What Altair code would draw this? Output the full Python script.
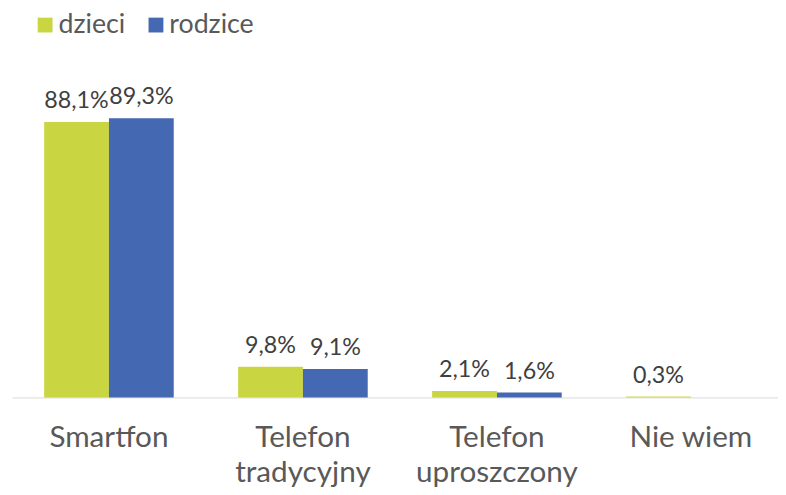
import altair as alt
import pandas as pd

categories = ["Smartfon", "Telefon tradycyjny", "Telefon uproszczony", "Nie wiem"]
series = ["dzieci", "rodzice"]
dzieci = [88.1, 9.8, 2.1, 0.3]
rodzice = [89.3, 9.1, 1.6, None]
colors = ["#C9D541", "#4568B2"]

rows = []
for c, d, r in zip(categories, dzieci, rodzice):
    if d is not None:
        rows.append({"kategoria": c, "seria": "dzieci", "v": d})
    if r is not None:
        rows.append({"kategoria": c, "seria": "rodzice", "v": r})
df = pd.DataFrame(rows)

FONT = "Lato"

base = alt.Chart(df).transform_calculate(
    lab="replace(format(datum.v, '.1f'), '.', ',') + '%'"
).encode(
    x=alt.X("kategoria:N", sort=categories,
            scale=alt.Scale(range=[4, 788], paddingInner=0.332, paddingOuter=0.166),
            axis=alt.Axis(title=None, labelAngle=0, ticks=False, domainColor="#D9D9D9",
                          domainWidth=1, labelFont=FONT, labelFontSize=30,
                          labelColor="#595959", labelPadding=26, labelLineHeight=35,
                          labelBaseline="top",
                          labelExpr="datum.value == 'Nie wiem' ? datum.value : split(datum.value, ' ')")),
    xOffset=alt.XOffset("seria:N", sort=series, scale=alt.Scale(paddingInner=0, paddingOuter=0)),
    y=alt.Y("v:Q", scale=alt.Scale(domain=[0, 123.8], nice=False), axis=None),
)

bars = base.mark_bar().encode(
    color=alt.Color("seria:N", sort=series,
                    scale=alt.Scale(domain=series, range=colors),
                    legend=alt.Legend(title=None, orient="none", legendX=24, legendY=1,
                                      direction="horizontal", symbolType="square",
                                      symbolSize=225, symbolStrokeWidth=0, symbolOpacity=1,
                                      labelFont=FONT, labelFontSize=27, labelColor="#595959",
                                      labelOffset=0, columnPadding=17, padding=0))
)

text = base.mark_text(baseline="bottom", dy=-9, font=FONT, fontSize=23.5,
                      color="#404040").encode(text="lab:N")

chart = (bars + text).properties(
    width=778, height=391,
    autosize=alt.AutoSizeParams(type="none"),
    padding={"left": 0, "top": 0, "right": 0, "bottom": 88},
).configure_view(stroke=None)

chart.save("out.html", embed_options={"renderer": "svg", "actions": False})
